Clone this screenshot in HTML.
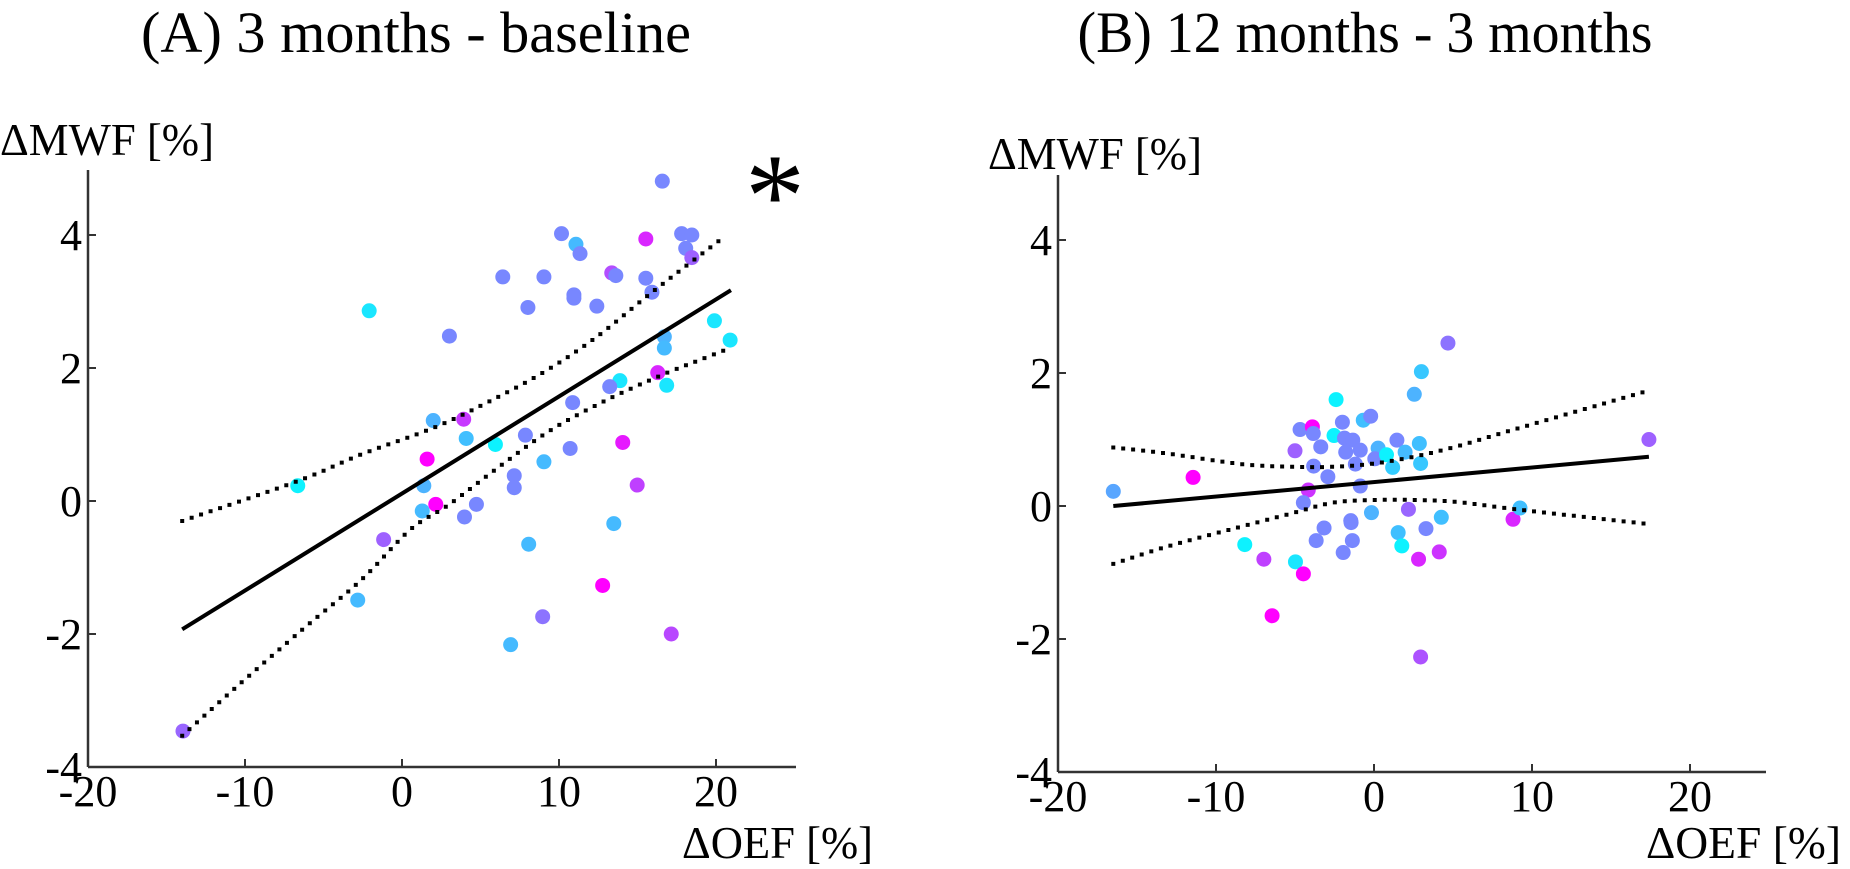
<!DOCTYPE html>
<html><head><meta charset="utf-8"><style>
html,body{margin:0;padding:0;background:#fff;}
svg{display:block;font-family:"Liberation Serif",serif;}
svg text{font-family:"Liberation Serif",serif;}
</style></head><body>
<svg id="fig" width="1850" height="869" viewBox="0 0 1850 869" xmlns="http://www.w3.org/2000/svg">
<text x="416" y="52" font-size="58" text-anchor="middle" textLength="550" lengthAdjust="spacingAndGlyphs">(A) 3 months - baseline</text>
<text x="1365" y="52" font-size="58" text-anchor="middle" textLength="575" lengthAdjust="spacingAndGlyphs">(B) 12 months - 3 months</text>
<text x="0" y="155" font-size="46" textLength="214" lengthAdjust="spacingAndGlyphs">ΔMWF [%]</text>
<text x="988" y="169" font-size="46" textLength="214" lengthAdjust="spacingAndGlyphs">ΔMWF [%]</text>
<text x="682" y="858" font-size="46" textLength="191" lengthAdjust="spacingAndGlyphs">ΔOEF [%]</text>
<text x="1646" y="858" font-size="46" textLength="195" lengthAdjust="spacingAndGlyphs">ΔOEF [%]</text>
<text x="775" y="236" font-size="120" text-anchor="middle">*</text>
<g id="pa"></g>
<g id="pb"></g>
</svg>
<script>
// Panel A data
const aX = [16.58,10.16,11.08,11.34,15.53,17.81,18.46,18.07,18.46,6.42,9.04,13.36,13.62,15.53,15.92,10.95,10.95,8.02,12.41,-2.09,3.02,16.71,16.71,16.29,13.88,13.23,16.86,10.87,1.99,3.93,4.09,5.95,7.86,10.71,14.06,1.6,9.04,-6.64,1.39,7.15,7.15,14.98,2.15,1.29,4.74,3.98,-1.17,13.49,8.07,12.78,-2.82,8.96,6.92,17.15,-13.95,19.9,20.9];
const aY = [4.81,4.02,3.86,3.72,3.94,4.02,4.0,3.8,3.66,3.37,3.37,3.43,3.39,3.35,3.14,3.1,3.05,2.91,2.93,2.86,2.48,2.47,2.3,1.93,1.81,1.72,1.74,1.48,1.21,1.23,0.94,0.85,0.99,0.79,0.88,0.63,0.59,0.23,0.23,0.38,0.2,0.24,-0.05,-0.15,-0.05,-0.24,-0.58,-0.34,-0.65,-1.27,-1.49,-1.74,-2.16,-2.0,-3.46,2.71,2.42];
const aC = [0.47,0.47,0.27,0.47,0.85,0.47,0.47,0.47,0.62,0.47,0.47,0.7,0.47,0.47,0.47,0.47,0.47,0.47,0.47,0.1,0.47,0.3,0.27,0.85,0.1,0.47,0.1,0.47,0.3,0.78,0.25,0.05,0.47,0.47,0.9,1.0,0.27,0.05,0.3,0.47,0.47,0.75,1.0,0.27,0.47,0.47,0.62,0.27,0.27,1.0,0.27,0.55,0.27,0.72,0.6,0.1,0.1];
const aLineX = [-14,20.95];
const aLineY = [-1.93,3.17];
const aUpX = [-14,-6.64,-2.61,2.0,5.5,9.04,12.3,15.45,17.9,20.4];
const aUpY = [-0.30,0.30,0.70,1.10,1.49,1.94,2.45,3.05,3.5,3.95];
const aLoX = [-14,-10.47,-6.28,-2.61,0.53,3.02,6.16,9.43,12.96,16.5,18.85,20.9];
const aLoY = [-3.53,-2.78,-1.92,-1.19,-0.43,-0.05,0.51,1.06,1.51,1.89,2.11,2.3];
// Panel B data
const bX = [-16.5,-11.45,-5.0,-4.68,-3.9,-3.84,-3.37,-3.82,-2.92,-4.16,-4.47,-2.4,-2.0,-2.53,-1.87,-1.34,-1.79,-0.87,-1.18,-0.68,-0.21,0.26,0.05,0.79,1.18,1.45,1.97,2.87,2.95,2.55,3.0,4.68,-0.87,-0.16,2.18,-3.16,-1.47,-1.45,-3.66,-1.37,-1.95,1.53,1.76,3.29,4.26,4.13,2.82,-8.18,-6.97,-4.97,-4.47,-6.45,2.95,8.8,9.24,17.4];
const bY = [0.22,0.43,0.83,1.15,1.19,1.09,0.89,0.6,0.44,0.24,0.05,1.6,1.26,1.06,1.02,0.99,0.81,0.84,0.63,1.29,1.35,0.87,0.71,0.77,0.58,0.99,0.81,0.94,0.64,1.68,2.02,2.45,0.3,-0.1,-0.05,-0.33,-0.22,-0.25,-0.52,-0.52,-0.7,-0.4,-0.6,-0.34,-0.17,-0.69,-0.8,-0.58,-0.8,-0.84,-1.02,-1.65,-2.27,-0.2,-0.03,1.0];
const bC = [0.35,1.0,0.62,0.47,1.0,0.47,0.47,0.47,0.47,0.8,0.47,0.05,0.47,0.05,0.47,0.47,0.47,0.47,0.47,0.25,0.47,0.3,0.47,0.05,0.2,0.47,0.27,0.25,0.22,0.3,0.22,0.55,0.47,0.3,0.6,0.47,0.47,0.47,0.47,0.47,0.47,0.25,0.05,0.47,0.25,0.8,0.85,0.05,0.75,0.1,1.0,1.0,0.68,0.85,0.25,0.62];
const bLineX = [-16.5,17.4];
const bLineY = [0.0,0.74];
const bUpX = [-16.5,-13.1,-8.4,-5.2,-2.6,0.05,2.7,5.3,9.0,17.3];
const bUpY = [0.88,0.79,0.63,0.59,0.59,0.64,0.75,0.9,1.16,1.73];
const bLoX = [-16.5,-13.1,-9.2,-5.2,-2.6,0.05,2.7,5.3,9.0,17.3];
const bLoY = [-0.87,-0.61,-0.36,-0.11,0.05,0.09,0.09,0.06,-0.05,-0.27];
const xTicks = [-20,-10,0,10,20];
const xTickLabels = ["-20","-10","0","10","20"];
const yTicks = [4,2,0,-2,-4];
const yTickLabels = ["4","2","0","-2","-4"];

const NS = "http://www.w3.org/2000/svg";
function mk(tag, attrs, parent){ const e=document.createElementNS(NS,tag); for(const k in attrs) e.setAttribute(k,attrs[k]); parent.appendChild(e); return e; }
function col(c){ return "rgb("+Math.round(255*c)+","+Math.round(255*(1-c))+",255)"; }
function smooth(pts){
  let d="M"+pts[0][0]+","+pts[0][1];
  for(let i=0;i<pts.length-1;i++){
    const p0=pts[Math.max(0,i-1)],p1=pts[i],p2=pts[i+1],p3=pts[Math.min(pts.length-1,i+2)];
    const c1=[p1[0]+(p2[0]-p0[0])/6,p1[1]+(p2[1]-p0[1])/6];
    const c2=[p2[0]-(p3[0]-p1[0])/6,p2[1]-(p3[1]-p1[1])/6];
    d+=" C"+c1[0]+","+c1[1]+" "+c2[0]+","+c2[1]+" "+p2[0]+","+p2[1];
  }
  return d;
}
function panel(g, p, X, Y, C, LX, LY, UX, UY, OX, OY, tag){
  const sx=v=>p.x0+(v+20)*p.kx, sy=v=>p.y0-v*p.ky;
  const bottom=sy(-4);
  let e;
  e=mk("line",{x1:p.x0,y1:bottom,x2:p.xEnd,y2:bottom,stroke:"#333","stroke-width":2.5},g);
  
  
  e=mk("line",{x1:p.x0,y1:bottom,x2:p.x0,y2:p.yTop,stroke:"#333","stroke-width":2.5},g);
  
  
  xTicks.forEach((t,i)=>{
    const x=sx(t);
    e=mk("line",{x1:x,y1:bottom,x2:x,y2:bottom-8,stroke:"#333","stroke-width":2},g);
    
    
    e=mk("text",{x:x,y:bottom+39,"font-size":44,"text-anchor":"middle","font-family":"Liberation Serif, serif"},g);
    e.textContent=xTickLabels[i];
    
    
  });
  yTicks.forEach((t,i)=>{
    const y=sy(t);
    e=mk("line",{x1:p.x0,y1:y,x2:p.x0+8,y2:y,stroke:"#333","stroke-width":2},g);
    
    
    e=mk("text",{x:p.x0-6,y:y+15,"font-size":44,"text-anchor":"end","font-family":"Liberation Serif, serif"},g);
    e.textContent=yTickLabels[i];
    
    
  });
  X.forEach((v,i)=>{
    e=mk("circle",{cx:sx(v),cy:sy(Y[i]),r:7.5,fill:col(C[i])},g);
    
    
  });
  e=mk("path",{d:"M"+sx(LX[0])+","+sy(LY[0])+" L"+sx(LX[1])+","+sy(LY[1]),stroke:"#000","stroke-width":4,fill:"none"},g);
  
  
  e=mk("path",{d:smooth(UX.map((v,i)=>[sx(v),sy(UY[i])])),stroke:"#000","stroke-width":4,fill:"none","stroke-dasharray":"0 10","stroke-linecap":"square"},g);
  
  
  e=mk("path",{d:smooth(OX.map((v,i)=>[sx(v),sy(OY[i])])),stroke:"#000","stroke-width":4,fill:"none","stroke-dasharray":"0 10","stroke-linecap":"square"},g);
  
  
}
panel(document.getElementById("pa"),{x0:88,kx:15.7,y0:501,ky:66.5,xEnd:796,yTop:170},aX,aY,aC,aLineX,aLineY,aUpX,aUpY,aLoX,aLoY,"panel-a");
panel(document.getElementById("pb"),{x0:1058,kx:15.8,y0:506,ky:66.5,xEnd:1766,yTop:175},bX,bY,bC,bLineX,bLineY,bUpX,bUpY,bLoX,bLoY,"panel-b");
</script>
</body></html>
